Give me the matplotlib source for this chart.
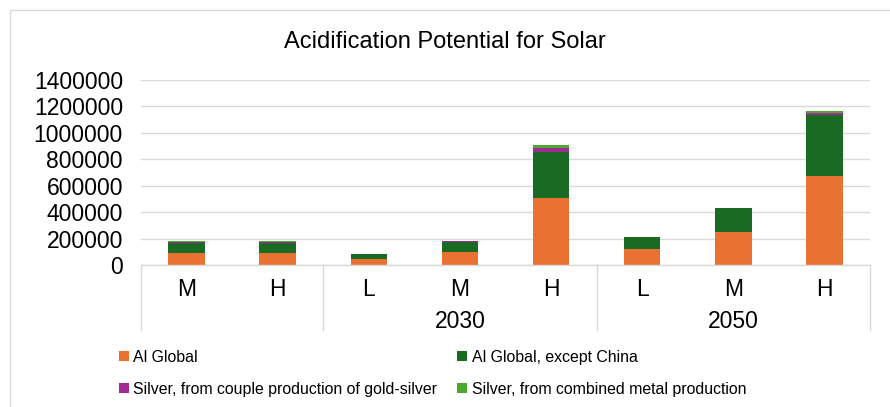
import matplotlib
matplotlib.use("Agg")
import matplotlib.pyplot as plt
import matplotlib.transforms as mtransforms
from matplotlib.patches import Rectangle
import numpy as np


# =========================
# Data
# =========================

scenarios = ["M", "H", "L", "M", "H", "L", "M", "H"]
years = ["", "2030", "2050"]
year_spans = [(0, 1), (2, 4), (5, 7)]

al_global = [93000, 93000, 43000, 100000, 505000, 123000, 252000, 673000]
al_except_china = [72000, 70000, 37000, 75000, 348000, 86000, 179000, 461000]
silver_gold = [10000, 10000, 1500, 3000, 35000, 1500, 2000, 20000]
silver_combined = [8000, 8000, 1000, 2000, 23000, 1000, 1500, 12000]

series_names = [
    "Al Global",
    "Al Global, except China",
    "Silver, from couple production of gold-silver",
    "Silver, from combined metal production",
]
series_colors = ["#E97132", "#196B24", "#A02B93", "#4EA72E"]


# =========================
# Figure
# =========================

plt.rcParams["font.family"] = ["Liberation Sans", "DejaVu Sans"]

W, H = 890, 407
fig = plt.figure(figsize=(W / 100, H / 100), dpi=100)
fig.patch.set_facecolor("white")

# chart frame
fig.add_artist(Rectangle(
    (9.5 / W, -0.5), 2.0, 1.5 - 9.5 / H,
    transform=fig.transFigure, fill=False,
    edgecolor="#D9D9D9", linewidth=1.0
))

ax = fig.add_axes([141 / W, 1 - 265 / H, (870 - 141) / W, (265 - 80) / H])

x = np.arange(len(scenarios))
bottom = np.zeros(len(scenarios))
bars = []
for vals, name, color in zip(
    [al_global, al_except_china, silver_gold, silver_combined],
    series_names,
    series_colors,
):
    b = ax.bar(x, vals, width=0.4, bottom=bottom, color=color,
               label=name, zorder=3)
    bars.append(b)
    bottom += np.array(vals)

ax.set_xlim(-0.5, len(scenarios) - 0.5)
ax.set_ylim(0, 1400000)
ax.set_yticks(np.arange(0, 1400001, 200000))
ax.yaxis.set_major_formatter(plt.FuncFormatter(lambda v, p: f"{int(v)}"))
ax.tick_params(axis="y", length=0, pad=13, labelsize=16.5)
ax.set_xticks([])

ax.grid(axis="y", color="#D9D9D9", linewidth=1.0, zorder=0)
for side in ["top", "right", "left"]:
    ax.spines[side].set_visible(False)
ax.spines["bottom"].set_color("#D9D9D9")
ax.spines["bottom"].set_linewidth(1.0)
ax.spines["bottom"].set_zorder(4)

# multi-level category axis
trans = mtransforms.blended_transform_factory(ax.transData, ax.transAxes)
sep_bottom = -(330 - 265) / 185

for xi, lab in zip(x, scenarios):
    ax.text(xi, -(289 - 265) / 185, lab, transform=trans,
            ha="center", va="center", fontsize=16.5)

for (a, b), yr in zip(year_spans, years):
    ax.text((a + b) / 2, -(322 - 265) / 185, yr, transform=trans,
            ha="center", va="center", fontsize=16.5)

for edge in [-0.5, 1.5, 4.5, 7.5]:
    ax.plot([edge, edge], [0, sep_bottom], transform=trans,
            color="#D9D9D9", linewidth=1.0, clip_on=False)

fig.text(445 / W, 1 - 42 / H, "Acidification Potential for Solar",
         ha="center", va="center", fontsize=17)

# legend is filled column by column, so order handles to read across rows
order = [0, 2, 1, 3]
fig.legend(
    handles=[bars[i] for i in order],
    labels=[series_names[i] for i in order],
    loc="upper left", bbox_to_anchor=(119 / W, 1 - 350 / H),
    ncol=2, frameon=False, fontsize=11.4,
    handlelength=0.6, handleheight=0.6, handletextpad=0.3,
    columnspacing=1.27, labelspacing=1.05, borderpad=0, borderaxespad=0,
)

fig.savefig("out.png", dpi=100)
